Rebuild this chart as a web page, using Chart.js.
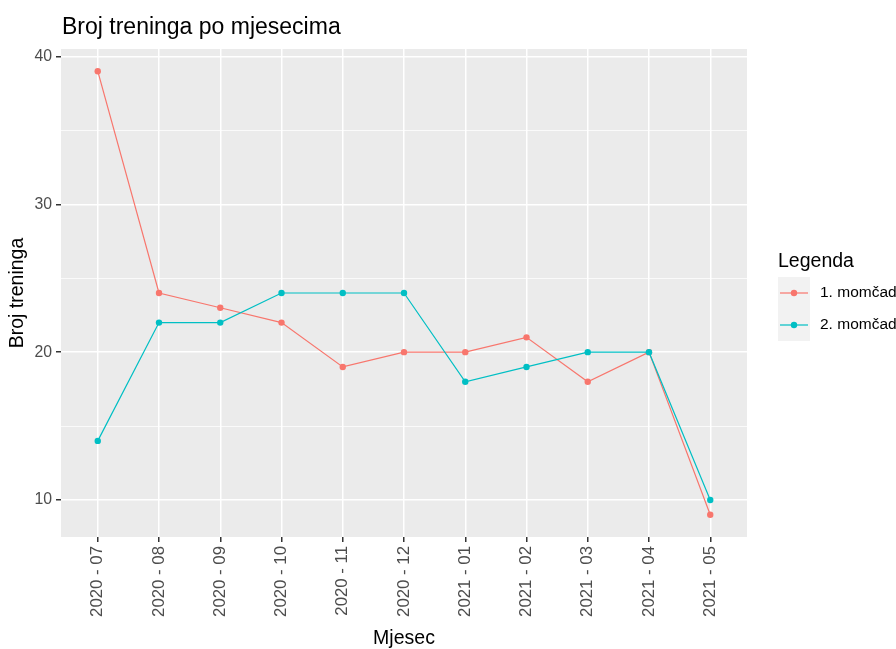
<!DOCTYPE html>
<html>
<head>
<meta charset="utf-8">
<script src="https://cdn.jsdelivr.net/npm/chart.js@4"></script>
<style>
  html, body { margin: 0; padding: 0; background: #fff; }
  #wrap { width: 896px; height: 649px; }
</style>
</head>
<body>
<div id="wrap"><canvas id="lineChart" width="896" height="649"></canvas></div>
<script>
const months = ['2020 - 07', '2020 - 08', '2020 - 09', '2020 - 10', '2020 - 11', '2020 - 12',
                '2021 - 01', '2021 - 02', '2021 - 03', '2021 - 04', '2021 - 05'];
const team1 = [39, 24, 23, 22, 19, 20, 20, 21, 18, 20, 9];
const team2 = [14, 22, 22, 24, 24, 24, 18, 19, 20, 20, 10];
const yTicks = [10, 15, 20, 25, 30, 35, 40];
const seriesNames = ['1. momčad', '2. momčad'];
const seriesColors = ['#F8766D', '#00BFC4'];

const FONT = '"Liberation Sans", Arial, sans-serif';

// ggplot-like panel background, title and legend
const ggPlugin = {
    id: 'ggPlugin',
    beforeDraw(chart) {
        const { ctx, chartArea: a } = chart;
        ctx.save();
        ctx.fillStyle = '#EBEBEB';
        ctx.fillRect(a.left, a.top, a.right - a.left, a.bottom - a.top);
        ctx.restore();
    },
    afterDraw(chart) {
        const ctx = chart.ctx;
        ctx.save();
        ctx.fillStyle = '#000';
        ctx.textBaseline = 'alphabetic';
        ctx.font = '23px ' + FONT;
        ctx.fillText('Broj treninga po mjesecima', 62, 34);

        // legend
        ctx.font = '19.5px ' + FONT;
        ctx.fillText('Legenda', 778, 267);
        ctx.fillStyle = '#F2F2F2';
        ctx.fillRect(778, 277, 32, 64);
        seriesNames.forEach((name, i) => {
            const y = 293 + i * 32;
            ctx.strokeStyle = seriesColors[i];
            ctx.lineWidth = 1.2;
            ctx.beginPath();
            ctx.moveTo(780, y);
            ctx.lineTo(808, y);
            ctx.stroke();
            ctx.fillStyle = seriesColors[i];
            ctx.beginPath();
            ctx.arc(794, y, 3.2, 0, Math.PI * 2);
            ctx.fill();
            ctx.fillStyle = '#000';
            ctx.font = '15.5px ' + FONT;
            ctx.textBaseline = 'middle';
            ctx.fillText(name, 820, y);
        });
        ctx.restore();
    }
};

const ctx = document.getElementById('lineChart').getContext('2d');
new Chart(ctx, {
    type: 'line',
    data: {
        datasets: [
            {
                label: seriesNames[0],
                data: team1.map((v, i) => ({ x: i, y: v })),
                borderColor: seriesColors[0],
                backgroundColor: seriesColors[0],
                borderWidth: 1.2,
                pointRadius: 3.2,
                pointBorderWidth: 0,
                order: 1
            },
            {
                label: seriesNames[1],
                data: team2.map((v, i) => ({ x: i, y: v })),
                borderColor: seriesColors[1],
                backgroundColor: seriesColors[1],
                borderWidth: 1.2,
                pointRadius: 3.2,
                pointBorderWidth: 0,
                order: 0
            }
        ]
    },
    options: {
        responsive: false,
        animation: false,
        layout: { padding: { top: 49, right: 149, bottom: 0, left: 0 } },
        plugins: {
            legend: { display: false },
            tooltip: { enabled: false }
        },
        scales: {
            x: {
                type: 'linear',
                min: -0.6,
                max: 10.6,
                afterBuildTicks: (scale) => { scale.ticks = months.map((m, i) => ({ value: i })); },
                afterFit: (scale) => { scale.height = 112; },
                border: { display: false },
                grid: { color: '#FFFFFF', lineWidth: 1.5, tickColor: '#333333', tickLength: 5 },
                ticks: {
                    autoSkip: false,
                    minRotation: 90,
                    maxRotation: 90,
                    padding: 4,
                    color: '#4D4D4D',
                    font: { family: FONT, size: 16.8 },
                    callback: (v) => months[v]
                },
                title: {
                    display: true,
                    text: 'Mjesec',
                    color: '#000',
                    font: { family: FONT, size: 19.5, lineHeight: 1.1 },
                    padding: { top: 0, bottom: 0 }
                }
            },
            y: {
                min: 7.5,
                max: 40.5,
                afterBuildTicks: (scale) => { scale.ticks = yTicks.map(v => ({ value: v })); },
                afterFit: (scale) => { scale.width = 61; },
                border: { display: false },
                grid: {
                    color: '#FFFFFF',
                    lineWidth: (c) => (c.tick && c.tick.value % 10 === 0 ? 1.5 : 0.75),
                    tickColor: (c) => (c.tick && c.tick.value % 10 === 0 ? '#333333' : 'rgba(0,0,0,0)'),
                    tickLength: 5
                },
                ticks: {
                    padding: 4,
                    color: '#4D4D4D',
                    font: { family: FONT, size: 15.8 },
                    callback: (v) => (v % 10 === 0 ? v : '')
                },
                title: {
                    display: true,
                    text: 'Broj treninga',
                    color: '#000',
                    font: { family: FONT, size: 19.5, lineHeight: 1.2 },
                    padding: { top: 6, bottom: 0 }
                }
            }
        }
    },
    plugins: [ggPlugin]
});
</script>
</body>
</html>
